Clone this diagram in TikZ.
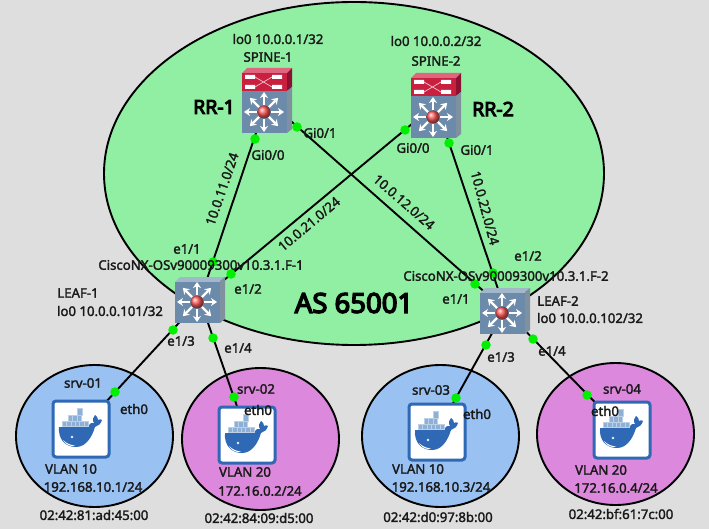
\documentclass[tikz,border=0pt]{standalone}
\usepackage{fontspec}
\setmainfont{Noto Sans}[FakeBold=2]
\newfontfamily\bigfont{Noto Sans}[FakeBold=5]
\usetikzlibrary{shapes.geometric,arrows.meta}
\definecolor{canvasgrey}{HTML}{DEDEDE}
\definecolor{asgreen}{HTML}{90EFA3}
\definecolor{vlanblue}{HTML}{99C1F1}
\definecolor{vlanpink}{HTML}{DC88DC}
\definecolor{linkdot}{HTML}{00F000}
\definecolor{dockerblue}{HTML}{2F69B5}
\definecolor{cratefill}{HTML}{8FB0D6}
\definecolor{swface}{HTML}{6C8AA9}
\definecolor{swtop}{HTML}{A3B7CB}
\definecolor{swside}{HTML}{7F909E}
\definecolor{rtfront}{HTML}{C9203F}
\definecolor{rttop}{HTML}{E0667F}
\definecolor{rtside}{HTML}{8C1030}
\newcommand{\swbody}{
  \fill[swside] (23,-21) -- (28,-25) -- (28,17) -- (23,21) -- cycle;
  \fill[swface] (-22,-20.5) rectangle (23,21);
  \foreach \ang in {0,45,...,315} {
    \draw[white,line width=2.4pt,-{Stealth[length=6pt,width=8pt]}] (\ang:7) -- (\ang:20);
  }
  \shade[ball color=red!65!white] (0,0) circle [radius=6.5];
}
\tikzset{
  area/.style={ellipse,draw=black,line width=1.9pt,inner sep=0pt},
  devpoint/.style={inner sep=0pt,minimum size=1pt},
  wire/.style={draw=black,line width=1.9pt},
  linkend/.style={circle,fill=linkdot,inner sep=0pt,minimum size=9.5pt},
  lbl/.style={inner sep=0pt,font=\fontsize{13.2}{15}\selectfont,text=black!90},
  rrlbl/.style={inner sep=0pt,font=\bigfont\fontsize{19.5}{21}\selectfont},
  pics/leafsw/.style={code={
    \fill[swtop] (-22,-20) -- (-17,-25) -- (28,-25) -- (23,-20) -- cycle;
    \swbody
  }},
  pics/spinesw/.style={code={
    \fill[rttop] (-22,-39) -- (-17,-44) -- (28,-44) -- (23,-39) -- cycle;
    \fill[rtside] (23,-39) -- (28,-44) -- (28,-25) -- (23,-21) -- cycle;
    \fill[rtfront] (-22,-39) rectangle (23,-20.5);
    \draw[white!75!rtfront,line width=0.7pt] (-9,-35) -- (8,-25) (-9,-25) -- (8,-35);
    \fill[white] (-19,-37) rectangle (-9,-33) (-19,-27) rectangle (-9,-23);
    \fill[white] (8,-37) rectangle (18,-33) (8,-27) rectangle (18,-23);
    \swbody
  }},
  pics/dockerbox/.style={code={
    \draw[dockerblue,fill=white,line width=3pt,rounded corners=3pt] (-28,-28) rectangle (28,28);
    \fill[dockerblue] (-22,-2) -- (7,-2) .. controls (9,-6) and (11,-7) .. (13,-6)
      .. controls (11,-9) and (12,-12) .. (14,-14) .. controls (16,-13) and (17,-11) .. (17,-9)
      .. controls (18,-10) and (20,-10) .. (21,-9) .. controls (20,-5) and (17,-3) .. (14,-2)
      .. controls (11,8) and (5,18) .. (-5,18) .. controls (-16,18) and (-23,10) .. (-22,-2) -- cycle;
    \fill[white] (-18,11) .. controls (-14,15) and (-10,16) .. (-6,16.5) .. controls (-10,18) and (-15,16) .. (-18,11) -- cycle;
    \draw[white,line width=0.4pt] (-9,8) circle [radius=1];
    \foreach \i in {0,...,5} {
      \draw[cratefill!60!white,fill=cratefill,line width=0.4pt] (-19+\i*4.4,-7.5) rectangle ++(4.4,5);
    }
    \foreach \i in {0,1,2} {
      \draw[cratefill!60!white,fill=cratefill,line width=0.4pt] (-13+\i*4.4,-13.5) rectangle ++(4.4,5.5);
    }
    \draw[cratefill!60!white,fill=cratefill,line width=0.4pt] (-4,-20.5) rectangle (1.5,-14);
  }},
  x=1pt,y=-1pt
}
\begin{document}
\begin{tikzpicture}
\useasboundingbox (0,0) rectangle (709,529);
\fill[canvasgrey] (0,0) rectangle (709,529);
% areas
\node[area,fill=asgreen,minimum width=500pt,minimum height=343pt] (as) at (354,173.5) {};
\node[area,fill=vlanblue,minimum width=157pt,minimum height=142pt] (areaA) at (94.5,436) {};
\node[area,fill=vlanpink,minimum width=157pt,minimum height=142pt] (areaB) at (260.5,439) {};
\node[area,fill=vlanblue,minimum width=157pt,minimum height=142pt] (areaC) at (440.5,436) {};
\node[area,fill=vlanpink,minimum width=157pt,minimum height=142pt] (areaD) at (615.5,434) {};
% devices
\node[devpoint] (spineA) at (267,100) {};
\node[devpoint] (spineB) at (436,104) {};
\node[devpoint] (leafA) at (200,300) {};
\node[devpoint] (leafB) at (505,310) {};
\node[devpoint] (srvA) at (81,429) {};
\node[devpoint] (srvB) at (247,435) {};
\node[devpoint] (srvC) at (437,432) {};
\node[devpoint] (srvD) at (622,430) {};
% links
\draw[wire] (spineA) -- (leafA);
\draw[wire] (spineA) -- (leafB);
\draw[wire] (spineB) -- (leafA);
\draw[wire] (spineB) -- (leafB);
\draw[wire] (leafA) -- (srvA);
\draw[wire] (leafA) -- (srvB);
\draw[wire] (leafB) -- (srvC);
\draw[wire] (leafB) -- (srvD);
% icons
\pic at (264,112) {spinesw};
\pic at (433,117) {spinesw};
\pic at (197,302) {leafsw};
\pic at (502,313) {leafsw};
\pic at (81,429) {dockerbox};
\pic at (247,435) {dockerbox};
\pic at (437,432) {dockerbox};
\pic at (622,430) {dockerbox};
% link ends
\node[linkend] (endA) at (255,139) {};
\node[linkend] (endB) at (297,127) {};
\node[linkend] (endC) at (405,130) {};
\node[linkend] (endD) at (449,143) {};
\node[linkend] (endE) at (213,262) {};
\node[linkend] (endF) at (231,274) {};
\node[linkend] (endG) at (173,330) {};
\node[linkend] (endH) at (213,338) {};
\node[linkend] (endI) at (475,284) {};
\node[linkend] (endJ) at (493,273) {};
\node[linkend] (endK) at (486,345) {};
\node[linkend] (endL) at (533,339) {};
\node[linkend] (endM) at (115,392) {};
\node[linkend] (endN) at (234,397) {};
\node[linkend] (endO) at (456,398) {};
\node[linkend] (endP) at (587,395) {};
% labels
\node[lbl] (loA) at (278,39) {lo0 10.0.0.1/32};
\node[lbl] (nameA) at (268,57) {SPINE-1};
\node[rrlbl] (rrA) at (214,107) {RR-1};
\node[lbl] (portA) at (268,155) {Gi0/0};
\node[lbl] (portB) at (320,133) {Gi0/1};
\node[lbl] (loB) at (436,41) {lo0 10.0.0.2/32};
\node[lbl] (nameB) at (436,61) {SPINE-2};
\node[rrlbl] (rrB) at (493,109) {RR-2};
\node[lbl] (portC) at (413,148) {Gi0/0};
\node[lbl] (portD) at (477,150) {Gi0/1};
\node[lbl] (portE) at (187,249) {e1/1};
\node[lbl] (imgA) at (201,265) {CiscoNX-OSv90009300v10.3.1.F-1};
\node[lbl] (portF) at (248,289) {e1/2};
\node[lbl] (portG) at (181,341) {e1/3};
\node[lbl] (portH) at (238,348) {e1/4};
\node[lbl] (nameC) at (78,293) {LEAF-1};
\node[lbl] (loC) at (110,311) {lo0 10.0.0.101/32};
\node[lbl] (portI) at (456,299) {e1/1};
\node[lbl] (portJ) at (528,256) {e1/2};
\node[lbl] (imgB) at (506,276) {CiscoNX-OSv90009300v10.3.1.F-2};
\node[lbl] (portK) at (501,357) {e1/3};
\node[lbl] (portL) at (552,351) {e1/4};
\node[lbl] (nameD) at (558,301) {LEAF-2};
\node[lbl] (loD) at (590,318) {lo0 10.0.0.102/32};
\node[rrlbl,font=\bigfont\fontsize{27.5}{29}\selectfont] (asname) at (354,303) {AS 65001};
\node[lbl,rotate=71] (netA) at (222,189) {10.0.11.0/24};
\node[lbl,rotate=40] (netB) at (309,224) {10.0.21.0/24};
\node[lbl,rotate=-41] (netC) at (404,202) {10.0.12.0/24};
\node[lbl,rotate=-75] (netD) at (485,208) {10.0.22.0/24};
\node[lbl] (srvnameA) at (83,383) {srv-01};
\node[lbl] (ethA) at (134,409) {eth0};
\node[lbl] (vlanA) at (71,469) {VLAN 10};
\node[lbl] (ipA) at (93,487) {192.168.10.1/24};
\node[lbl] (macA) at (94,515) {02:42:81:ad:45:00};
\node[lbl] (srvnameB) at (256,389) {srv-02};
\node[lbl] (ethB) at (258,410) {eth0};
\node[lbl] (vlanB) at (245,472) {VLAN 20};
\node[lbl] (ipB) at (260,491) {172.16.0.2/24};
\node[lbl] (macB) at (259,518) {02:42:84:09:d5:00};
\node[lbl] (srvnameC) at (431,390) {srv-03};
\node[lbl] (ethC) at (477,414) {eth0};
\node[lbl] (vlanC) at (418,469) {VLAN 10};
\node[lbl] (ipC) at (441,487) {192.168.10.3/24};
\node[lbl] (macC) at (438,517) {02:42:d0:97:8b:00};
\node[lbl] (srvnameD) at (622,389) {srv-04};
\node[lbl] (ethD) at (605,411) {eth0};
\node[lbl] (vlanD) at (601,470) {VLAN 20};
\node[lbl] (ipD) at (616,488) {172.16.0.4/24};
\node[lbl] (macD) at (621,514) {02:42:bf:61:7c:00};
\end{tikzpicture}
\end{document}
